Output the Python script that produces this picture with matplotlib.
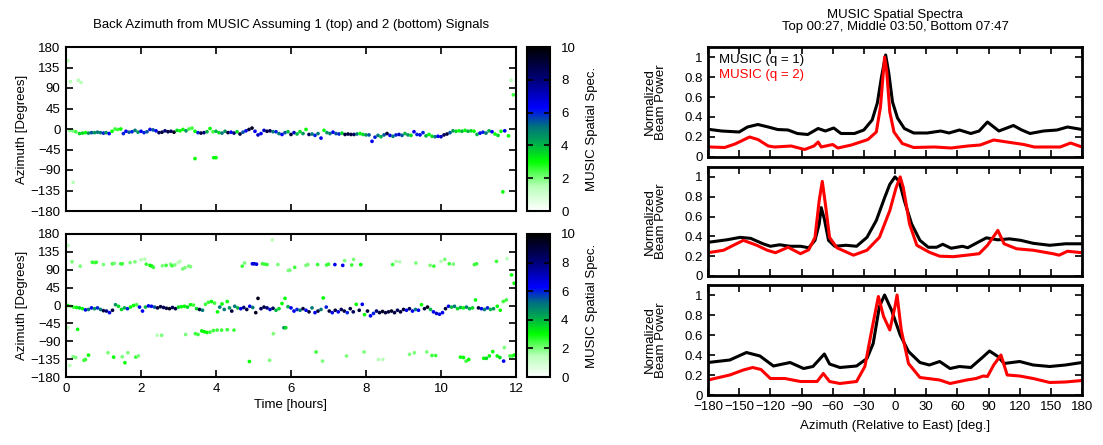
import matplotlib
matplotlib.use('Agg')
import matplotlib.pyplot as plt
from matplotlib.colors import LinearSegmentedColormap

plt.rcParams['font.family'] = ['Liberation Sans', 'DejaVu Sans']
plt.rcParams['font.size'] = 9.5

# ---- back azimuth, 1 signal (top) ----
top_t = [0.10, 0.18, 0.26, 0.36, 0.44, 0.52, 0.6, 0.68, 0.76, 0.84, 0.92, 1.0, 1.07, 1.15, 1.23, 1.31, 1.38, 1.46,
         1.53, 1.6, 1.68, 1.76, 1.84, 1.92, 2.0, 2.08, 2.16, 2.24, 2.32, 2.4, 2.48, 2.56, 2.64, 2.72, 2.8, 2.88, 2.96,
         3.04, 3.12, 3.2, 3.28, 3.36, 3.44, 3.52, 3.6, 3.68, 3.76, 3.84, 3.92, 4.0, 4.08, 4.16, 4.24, 4.32, 4.4, 4.48,
         4.56, 4.64, 4.72, 4.8, 4.88, 4.96, 5.04, 5.12, 5.2, 5.28, 5.36, 5.44, 5.52, 5.6, 5.68, 5.76, 5.84, 5.92, 6.0,
         6.08, 6.16, 6.24, 6.32, 6.4, 6.48, 6.56, 6.64, 6.72, 6.8, 6.88, 6.96, 7.04, 7.12, 7.2, 7.28, 7.36, 7.44, 7.52,
         7.6, 7.68, 7.76, 7.84, 7.92, 8.0, 8.08, 8.16, 8.24, 8.32, 8.4, 8.48, 8.56, 8.64, 8.72, 8.8, 8.88, 8.96, 9.04,
         9.12, 9.2, 9.28, 9.36, 9.44, 9.52, 9.6, 9.68, 9.76, 9.84, 9.92, 10.0, 10.08, 10.16, 10.24, 10.32, 10.4, 10.48,
         10.56, 10.64, 10.72, 10.8, 10.88, 10.96, 11.04, 11.12, 11.2, 11.28, 11.36, 11.44, 11.52, 11.6, 11.7, 11.8,
         0.05, 0.12, 0.33, 0.4, 0.19, 3.44, 3.94, 4.0, 11.65, 11.87, 11.93]
top_az = [-3, -4, -6, -10, -9, -8, -9, -8, -8, -7, -8, -9, -8, -10, -5, 0, -1, 0,
          -10, -5, -7, -6, -3, -7, -5, -8, -6, -1, -2, -4, -8, -7, -4, -6, -5, -7, -3,
          -4, -1, -4, 0, 2, -5, -8, -9, -8, -6, 1, -6, -5, -8, -9, -5, -8, -7, -9,
          -6, -11, -7, -4, -1, 2, -5, -13, -10, -3, -5, -4, -6, -6, -10, -12, -8, -6, -12,
          -8, -11, -6, -10, -1, -12, -11, -14, -10, -20, -3, -8, -10, -7, -10, -11, -9, -12, -11,
          -12, -12, -11, -10, -12, -13, -13, -27, -18, -14, -17, -13, -10, -14, -16, -13, -12, -14, -10,
          -13, -14, -6, -12, -13, -8, -15, -12, -16, -17, -16, -17, -13, -11, -8, -4, -5, -4,
          -5, -3, -5, -4, -5, -12, -9, -7, -9, -4, -6, -11, -14, -5, -4, -15,
          150, 104, 107, 102, -117, -65, -63, -63, -138, 107, 75]
top_p = [2, 2, 2.5, 3.5, 3.5, 3, 4.5, 5.5, 4.5, 5, 5, 6, 4.5, 6.5, 3, 2.5, 2.5, 3,
         6, 6.5, 5.5, 6, 5, 4.5, 6.5, 6, 5.5, 6.5, 5.5, 6.5, 8.5, 9, 8, 9, 8.5, 9.5, 3.5,
         3, 3, 4.5, 2.5, 2.5, 3, 6, 9, 8, 4, 3, 2.5, 4, 3.5, 5, 4.5, 9, 6.5, 8,
         3.5, 9, 5.5, 6.5, 9, 9.5, 6.5, 7, 6.5, 7, 9, 8.5, 5, 6, 5, 6.5, 5.5, 4, 9,
         7, 4, 3.5, 4.5, 3, 8.5, 5, 6, 5, 6.5, 3, 4.5, 5, 6.5, 5.5, 6, 3.5, 9, 9,
         9, 8.5, 5, 3, 3.5, 4.5, 5.5, 6.5, 6, 5, 4, 5.5, 9, 6.5, 5, 6, 7, 5.5, 4,
         4.5, 3.5, 6.5, 6, 6.5, 6, 4, 3, 3.5, 5, 6.5, 7, 8.5, 9, 5.5, 4.5, 3.5, 3,
         4, 3, 4, 3.5, 3, 4, 6.5, 6, 5, 4, 6.5, 3, 3.5, 3, 6.5, 3,
         1.5, 1.5, 1.5, 1.5, 1.5, 3, 3, 3, 3, 1.5, 2.5]

# ---- back azimuth, 2 signals (bottom) ----
bot_t = [0.05, 0.12, 0.2, 0.28, 0.36, 0.44, 0.52, 0.6, 0.68, 0.76, 0.84, 0.92, 1.0, 1.08, 1.16, 1.24, 1.32, 1.4,
         1.48, 1.56, 1.64, 1.72, 1.8, 1.88, 1.96, 2.04, 2.12, 2.2, 2.28, 2.36, 2.44, 2.52, 2.6, 2.68, 2.76, 2.84, 2.92,
         3.0, 3.08, 3.16, 3.24, 3.32, 3.4, 3.48, 3.56, 3.64, 3.72, 3.8, 3.88, 3.96, 4.04, 4.1, 4.16, 4.22, 4.3, 4.36,
         4.42, 4.5, 4.58, 4.66, 4.74, 4.82, 4.9, 4.98, 5.06, 5.12, 5.2, 5.28, 5.36, 5.44, 5.52, 5.6, 5.68, 5.76, 5.84,
         5.92, 6.0, 6.08, 6.16, 6.24, 6.32, 6.4, 6.48, 6.56, 6.64, 6.72, 6.8, 6.86, 6.94, 7.02, 7.1, 7.18, 7.26, 7.34,
         7.42, 7.5, 7.58, 7.66, 7.74, 7.82, 7.9, 7.96, 8.04, 8.12, 8.2, 8.28, 8.36, 8.44, 8.52, 8.6, 8.68, 8.76, 8.84,
         8.92, 9.0, 9.08, 9.16, 9.24, 9.32, 9.4, 9.48, 9.56, 9.64, 9.72, 9.8, 9.88, 9.96, 10.04, 10.12, 10.2, 10.28,
         10.36, 10.44, 10.52, 10.6, 10.68, 10.76, 10.84, 10.92, 11.0, 11.08, 11.16, 11.24, 11.32, 11.4, 11.5, 11.58,
         11.66, 11.74,
         # upper track
         0.05, 0.16, 0.38, 0.7, 0.76, 0.81, 1.0, 1.24, 1.29, 1.46, 1.5, 1.71, 1.84, 2.0, 2.1, 2.14, 2.24, 2.29, 2.33,
         2.57, 2.67, 2.79, 2.83, 2.9, 2.99, 3.04, 3.11, 3.17, 3.27, 3.32, 4.7, 4.76, 4.97, 5.02, 5.08, 5.24, 5.3,
         5.5, 5.36, 5.65, 5.93, 5.97, 6.1, 6.4, 6.45, 6.71, 6.95, 7.0, 7.17, 7.38, 7.43, 7.62, 7.67, 7.86, 8.71,
         8.8, 8.9, 9.33, 9.71, 9.81, 10.0, 10.1, 10.22, 10.33, 10.89, 10.95, 11.48, 11.76, 11.88, 11.95,
         # lower track
         0.05, 0.1, 0.19, 0.26, 0.31, 0.48, 0.52, 0.6, 1.12, 1.27, 1.5, 1.57, 1.65, 1.86, 1.93, 2.43, 2.55, 3.19,
         3.45, 3.52, 3.62, 3.69, 3.76, 3.84, 3.93, 4.03, 4.15, 4.3, 4.48, 4.89, 5.43, 5.53, 5.81, 5.86, 6.67, 6.84,
         7.48, 7.95, 8.33, 8.45, 9.16, 9.29, 9.62, 9.76, 9.86, 10.52, 10.6, 10.67, 10.74, 11.14, 11.21, 11.29,
         11.38, 11.5, 11.57, 11.67, 11.69, 11.84, 11.9, 11.95]
bot_az = [0, -2, -4, -5, -6, -8, -11, -10, -6, -8, -6, -10, -13, -14, -18, -12, 2, -2,
          -10, -6, -8, -4, 0, 2, -4, -14, -4, -1, -2, -4, -6, -3, -5, -7, -8, -5, -8,
          -4, -3, -2, -4, 2, 1, -8, -10, -12, 3, 8, 10, 6, -16, -4, 4, -10, 10, -6,
          -14, -2, -6, -8, -5, -10, -2, -5, -18, 18, -8, -4, -6, -10, -7, -12, -8, 5, 18,
          -3, -6, -14, -10, -12, -8, -12, -16, -6, -18, -14, -10, 19, -4, -14, -18, -12, -16, -10,
          -14, -18, -8, -16, 3, -12, 3, -23, -14, -26, -20, -14, -18, -15, -18, -16, -14, -18, -12,
          -16, -10, -12, -8, -14, -10, -12, 2, -8, -4, -10, -16, -20, -22, -18, -8, -2, -4,
          -2, -8, -5, -6, -4, -8, -6, 14, -6, -8, -10, -6, -10, -8, -2, -12,
          10, 14,
          151, 110, 99, 109, 108, 109, 103, 105, 106, 105, 105, 108, 110, 115, 117, 104, 101, 99, 96,
          100, 101, 104, 100, 102, 108, 111, 92, 95, 99, 98, 99, 107, 105, 105, 104, 105, 104,
          165, 103, 103, 88, 89, 96, 101, 103, 103, 102, 104, 103, 101, 113, 102, 116, 103, 103,
          111, 110, 107, 101, 99, 111, 116, 105, 104, 103, 105, 111, 118, 77, 56,
          -56, -151, -129, -131, -60, -138, -136, -125, -119, -130, -129, -144, -119, -130, -127, -75, -75, -73,
          -71, -73, -64, -66, -68, -67, -63, -62, -62, -61, -62, -141, -138, -71, -56, -56, -117, -140,
          -127, -117, -136, -136, -123, -119, -117, -126, -126, -130, -131, -140, -136, -133, -133, -127,
          -116, -127, -131, -140, -106, -127, -127, -125]
bot_p = [3, 2, 2.5, 3, 3.5, 3, 6.5, 5, 6.5, 4.5, 6, 5, 9, 8, 6.5, 9, 4.5, 3.5,
         3.5, 4, 6, 3, 3, 2.5, 6.5, 6.5, 4, 6.5, 6.5, 5.5, 9, 9, 8.5, 9, 9.5, 8.5, 9,
         3.5, 3, 3, 3.5, 3, 2.5, 3.5, 9, 5, 2.5, 2.5, 3, 2.5, 3, 5, 3, 5, 3, 4.5,
         9, 5, 4, 6.5, 8, 9, 6.5, 5, 9.5, 9.5, 8.5, 9, 8, 7, 8.5, 4, 3.5, 3, 3,
         4, 6.5, 6.5, 6, 5, 9, 6.5, 9, 5, 6.5, 9, 5, 3, 6, 9, 6.5, 9, 6.5, 8.5,
         9, 6, 9, 8.5, 3, 9, 6.5, 3, 9, 6.5, 6, 8, 9, 9.5, 9, 9, 9.5, 9, 8.5,
         9, 9, 6.5, 8.5, 6.5, 5, 6.5, 3, 9, 9.5, 4, 6.5, 7, 6.5, 6.5, 9, 6.5, 4,
         5, 3.5, 4, 3, 5, 4, 3.5, 3, 9, 6.5, 5, 6, 4, 4.5, 3, 3,
         2.5, 2.5,
         1.5, 2, 2, 2.5, 2.5, 2.5, 2, 2.5, 2, 2.5, 2.5, 2, 2, 1.5, 1.5, 2.5, 3, 3, 2.5,
         2, 2.5, 2, 2.5, 2, 1.5, 1.5, 2, 2, 2, 2, 2.5, 2, 6.5, 7, 6.5, 2.5, 2.5,
         1.5, 2.5, 2, 2, 2, 2.5, 2, 2, 2.5, 2.5, 2.5, 6.5, 6.5, 2, 2.5, 2, 3, 2.5,
         1.5, 1.5, 2, 2, 2.5, 1.5, 2, 2.5, 2, 2.5, 2.5, 2.5, 1.5, 3, 3,
         1.5, 1.5, 2, 2, 3, 2.5, 2.5, 3, 2, 3, 2, 3, 2, 2.5, 2, 1.5, 2, 2,
         2.5, 2.5, 3, 3, 3, 2.5, 2.5, 2.5, 2.5, 2.5, 2.5, 3, 2, 2, 4.5, 3.5, 2.5, 2,
         2, 2, 1.5, 1.5, 2, 2, 2, 2.5, 2.5, 3, 3, 2.5, 3, 3, 3.5, 3,
         3, 3, 3.5, 6.5, 2, 2.5, 2.5, 3]

# ---- MUSIC spatial spectra ----
top_q1_az = [-178, -167, -150, -142, -132, -122, -113, -103, -94, -84, -74, -67, -59, -52, -39, -30, -22, -17, -13,
             -9, -6, -2.4, 2.4, 9, 18, 31, 44, 52, 62, 73, 81, 89, 100, 114, 122, 130, 143, 156, 166, 180]
top_q1_pw = [0.275, 0.26, 0.25, 0.3, 0.325, 0.3, 0.275, 0.27, 0.235, 0.225, 0.285, 0.26, 0.29, 0.235, 0.235, 0.27,
             0.37, 0.54, 0.8, 1.02, 0.84, 0.55, 0.39, 0.285, 0.24, 0.24, 0.26, 0.24, 0.27, 0.235, 0.26, 0.35, 0.26,
             0.315, 0.27, 0.235, 0.26, 0.27, 0.3, 0.275]
top_q2_az = [-178, -164, -154, -140, -132, -122, -116, -100, -87, -78, -74, -71, -60, -55, -42, -26, -18, -14, -10,
             -8, -5, -1, 7, 18, 38, 54, 70, 82, 95, 111, 124, 134, 159, 169, 180]
top_q2_pw = [0.1, 0.095, 0.13, 0.2, 0.175, 0.11, 0.1, 0.11, 0.075, 0.11, 0.15, 0.1, 0.125, 0.09, 0.12, 0.175, 0.25,
             0.5, 1.0, 0.86, 0.45, 0.25, 0.135, 0.095, 0.1, 0.09, 0.11, 0.12, 0.17, 0.145, 0.125, 0.1, 0.1, 0.14, 0.1]

mid_q1_az = [-180, -162, -149, -139, -127, -120, -111, -101, -91, -83, -77, -73, -71, -68, -64, -58, -47, -37, -27,
             -18, -10, -5, 0, 4, 9, 16, 24, 32, 40, 46, 54, 65, 70, 78, 88, 99, 110, 121, 133, 149, 164, 180]
mid_q1_pw = [0.34, 0.365, 0.39, 0.38, 0.325, 0.3, 0.315, 0.3, 0.3, 0.285, 0.36, 0.525, 0.69, 0.575, 0.36, 0.3, 0.31,
             0.3, 0.39, 0.56, 0.79, 0.925, 1.0, 0.955, 0.76, 0.525, 0.36, 0.29, 0.29, 0.32, 0.28, 0.3, 0.285, 0.33,
             0.385, 0.365, 0.375, 0.36, 0.33, 0.31, 0.325, 0.325]
mid_q2_az = [-180, -165, -146, -133, -123, -115, -103, -91, -83, -77, -73, -70, -67, -63, -56, -40, -27, -15, -5, 1,
             5, 8, 14, 21, 33, 43, 56, 69, 81, 89, 99, 105, 117, 133, 152, 158, 166, 180]
mid_q2_pw = [0.235, 0.26, 0.36, 0.31, 0.26, 0.235, 0.29, 0.225, 0.265, 0.39, 0.76, 0.955, 0.725, 0.39, 0.285, 0.21,
             0.26, 0.39, 0.66, 0.89, 1.0, 0.89, 0.525, 0.31, 0.24, 0.2, 0.195, 0.21, 0.225, 0.31, 0.46, 0.325, 0.275,
             0.26, 0.225, 0.21, 0.25, 0.235]

bot_q1_az = [-180, -159, -143, -130, -117, -101, -88, -79, -68, -63, -53, -37, -27, -21, -15, -10, -3.4, 5, 13, 24,
             33, 43, 53, 62, 73, 83, 91, 99, 105, 120, 133, 149, 164, 180]
bot_q1_pw = [0.325, 0.35, 0.425, 0.39, 0.29, 0.325, 0.265, 0.285, 0.41, 0.31, 0.275, 0.29, 0.365, 0.515, 0.885, 1.0,
             0.85, 0.6, 0.435, 0.325, 0.3, 0.335, 0.265, 0.285, 0.275, 0.365, 0.44, 0.385, 0.315, 0.335, 0.3, 0.285,
             0.3, 0.325]
bot_q2_az = [-180, -159, -146, -137, -129, -120, -106, -91, -75, -69, -63, -53, -37, -29, -23, -16, -11, -5, 0, 2, 6,
             13, 24, 43, 53, 69, 78, 85, 89, 95, 102, 108, 120, 133, 149, 164, 180]
bot_q2_pw = [0.15, 0.2, 0.25, 0.275, 0.255, 0.165, 0.165, 0.135, 0.135, 0.215, 0.135, 0.115, 0.135, 0.285, 0.615,
             0.985, 0.785, 0.65, 0.885, 1.0, 0.65, 0.315, 0.175, 0.15, 0.115, 0.15, 0.165, 0.19, 0.185, 0.3, 0.4, 0.2,
             0.19, 0.165, 0.125, 0.13, 0.145]

time_ticks = [0, 2, 4, 6, 8, 10, 12]
az_ticks = [-180, -135, -90, -45, 0, 45, 90, 135, 180]
spec_ticks = [-180, -150, -120, -90, -60, -30, 0, 30, 60, 90, 120, 150, 180]
pow_ticks = [0, 0.2, 0.4, 0.6, 0.8, 1]
cb_ticks = [0, 2, 4, 6, 8, 10]

cmap = LinearSegmentedColormap.from_list('music', [
    (0.0, '#ffffff'), (0.15, '#b8ffb8'), (0.3, '#00ff00'), (0.42, '#00a850'),
    (0.52, '#007080'), (0.63, '#0000ff'), (0.8, '#00007a'), (1.0, '#000000')])

W, H = 1103, 445


def box(l, t, r, b):
    return [l / W, 1 - b / H, (r - l) / W, (b - t) / H]


def frame(ax, lw=1.5):
    for s in ax.spines.values():
        s.set_linewidth(lw)
    ax.tick_params(direction='in', top=True, right=True, length=5, width=1.2, pad=4)


fig = plt.figure(figsize=(W / 100, H / 100), dpi=100)

# left: back azimuth panels
for i, (tt, aa, pp) in enumerate([(top_t, top_az, top_p), (bot_t, bot_az, bot_p)]):
    rows = [(47, 211), (234, 377)][i]
    ax = fig.add_axes(box(66, rows[0], 516, rows[1]))
    sc = ax.scatter(tt, aa, c=pp, cmap=cmap, vmin=0, vmax=10, s=7, linewidths=0)
    ax.set_xlim(0, 12)
    ax.set_ylim(-180, 180)
    ax.set_xticks(time_ticks)
    ax.set_yticks(az_ticks)
    frame(ax)
    ax.set_ylabel('Azimuth [Degrees]', labelpad=2)
    if i == 0:
        ax.set_xticklabels([])
        ax.set_title('Back Azimuth from MUSIC Assuming 1 (top) and 2 (bottom) Signals', fontsize=9.5, pad=14)
    else:
        ax.set_xlabel('Time [hours]', labelpad=3)
    cax = fig.add_axes(box(527, rows[0], 550, rows[1]))
    cb = fig.colorbar(sc, cax=cax, ticks=cb_ticks)
    cb.outline.set_linewidth(1.5)
    cax.tick_params(direction='in', left=True, right=True, length=4, width=1.2, color='black', pad=8)
    cb.set_label('MUSIC Spatial Spec.', labelpad=7)

# right: spatial spectra panels
spectra = [(top_q1_az, top_q1_pw, top_q2_az, top_q2_pw, (47, 157)),
           (mid_q1_az, mid_q1_pw, mid_q2_az, mid_q2_pw, (167, 276)),
           (bot_q1_az, bot_q1_pw, bot_q2_az, bot_q2_pw, (285, 395))]
for i, (a1, p1, a2, p2, rows) in enumerate(spectra):
    ax = fig.add_axes(box(708, rows[0], 1082, rows[1]))
    ax.plot(a1, p1, color='black', lw=2.2, solid_joinstyle='round')
    ax.plot(a2, p2, color='red', lw=2.2, solid_joinstyle='round')
    ax.set_xlim(-180, 180)
    ax.set_ylim(0, 1.1)
    ax.set_xticks(spec_ticks)
    ax.set_yticks(pow_ticks)
    ax.set_yticklabels(['0', '0.2', '0.4', '0.6', '0.8', '1'])
    frame(ax, lw=2)
    ax.set_ylabel('Normalized\nBeam Power', labelpad=12, linespacing=0.95)
    if i < 2:
        ax.set_xticklabels([])
    else:
        ax.set_xlabel('Azimuth (Relative to East) [deg.]', labelpad=5)
    if i == 0:
        ax.set_title('MUSIC Spatial Spectra\nTop 00:27, Middle 03:50, Bottom 07:47', fontsize=9.5, pad=12,
                     linespacing=1.0)
        ax.text(0.03, 0.94, 'MUSIC (q = 1)', transform=ax.transAxes, color='black', va='top')
        ax.text(0.03, 0.80, 'MUSIC (q = 2)', transform=ax.transAxes, color='red', va='top')

fig.savefig('out.png', dpi=100)
